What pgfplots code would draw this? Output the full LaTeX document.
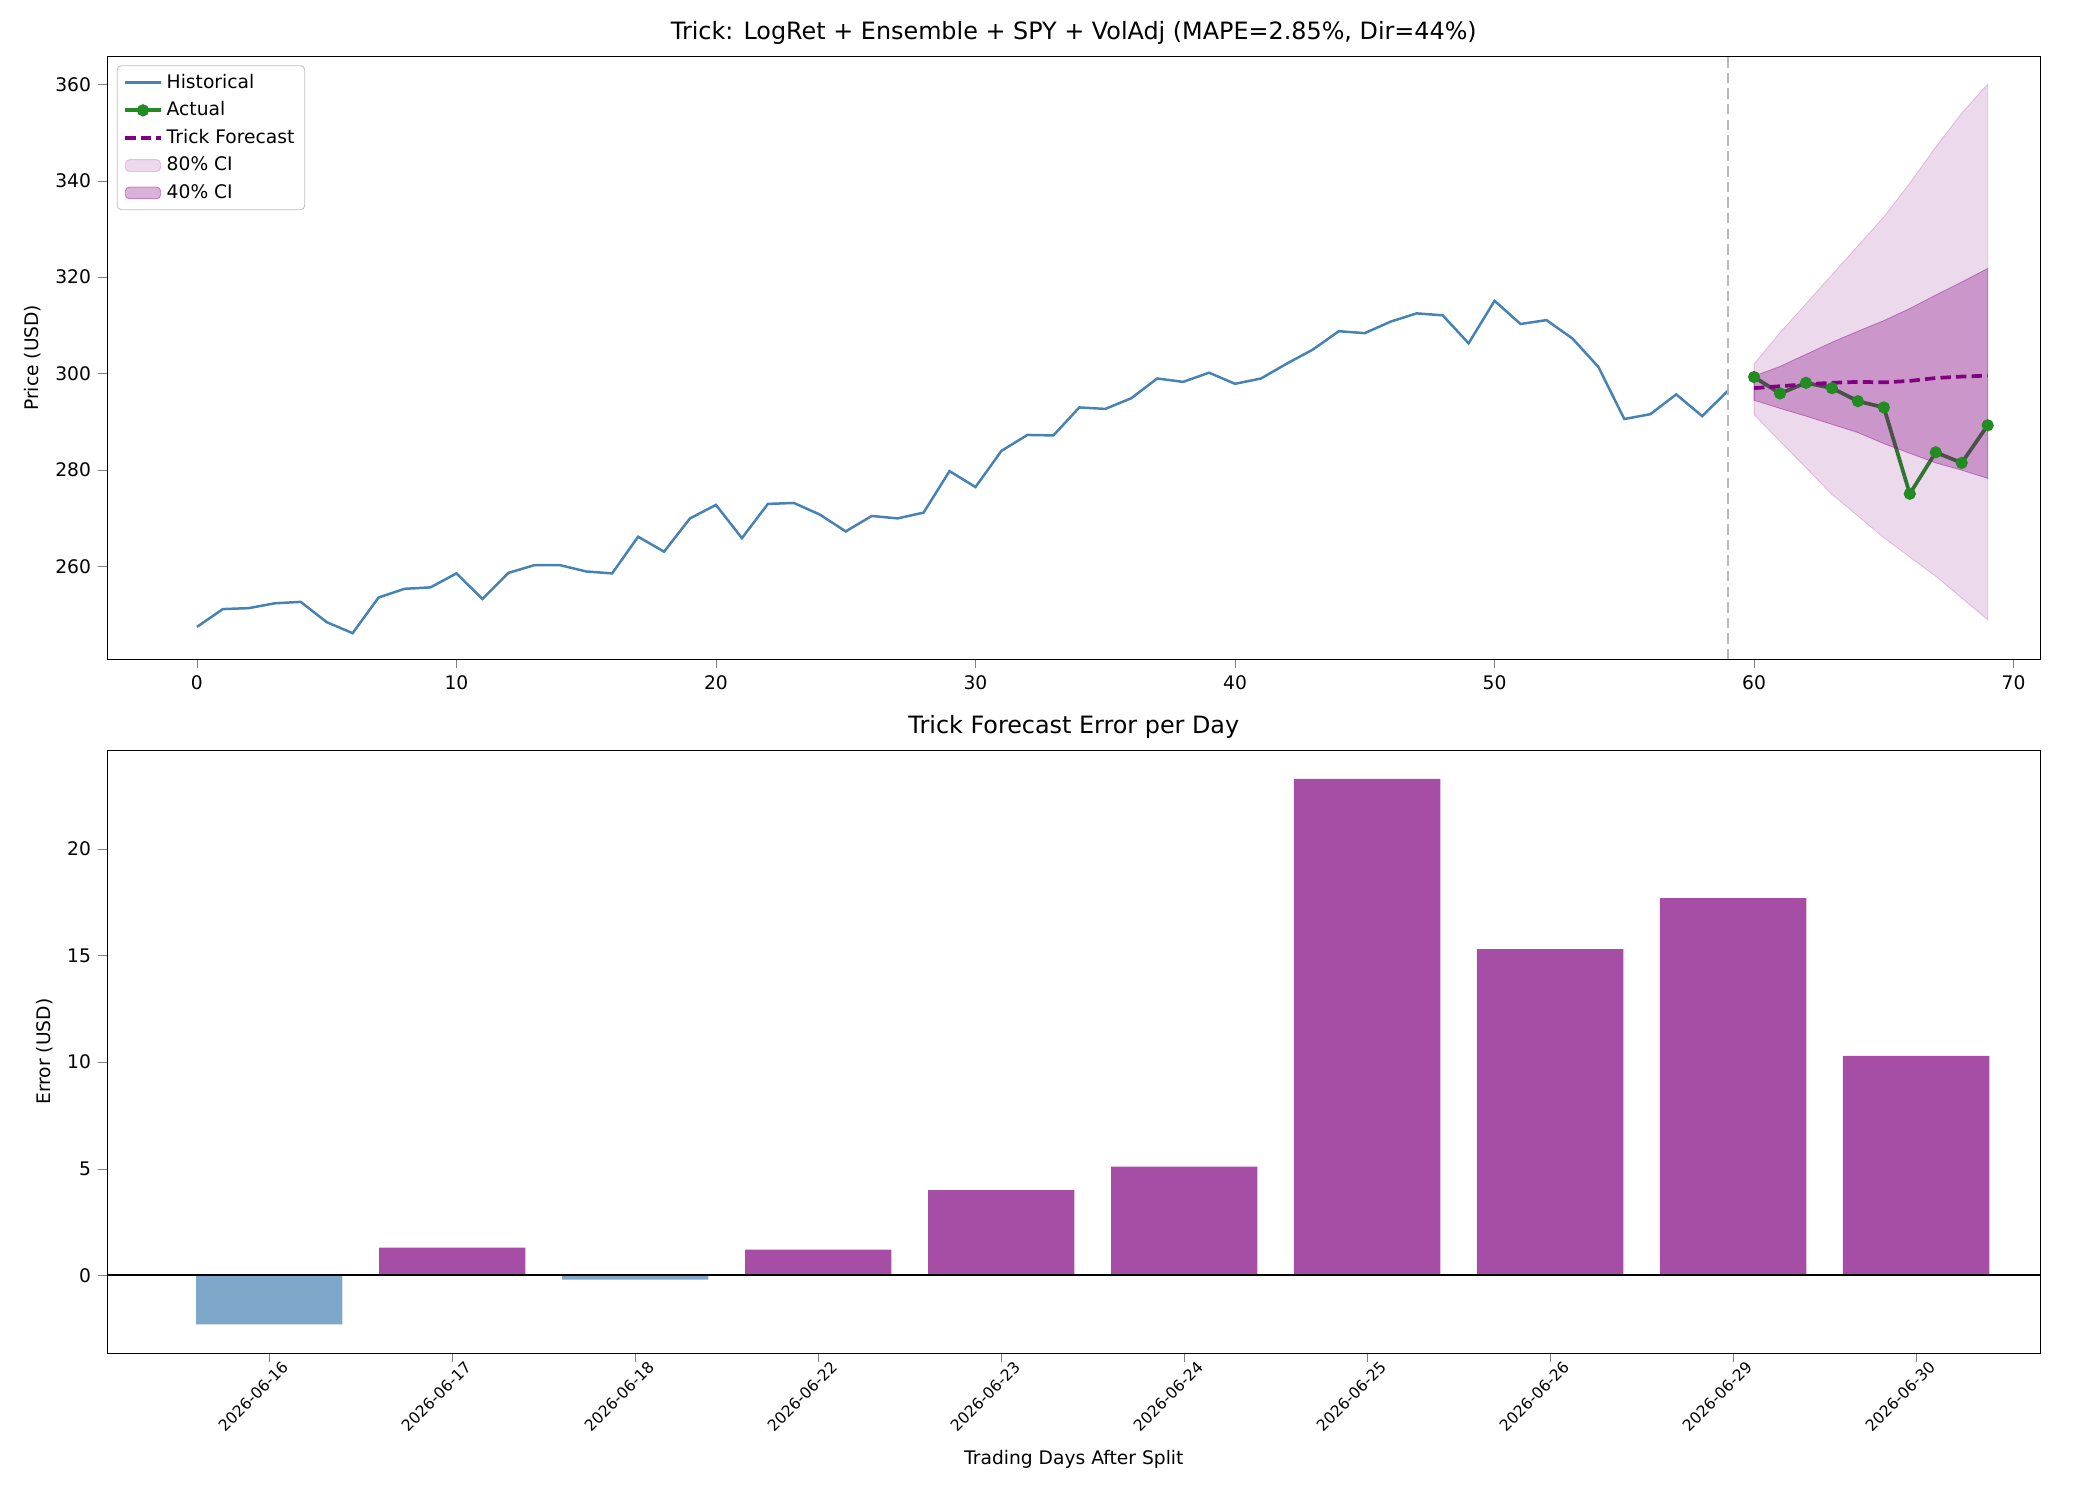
\documentclass[border=0pt]{standalone}
\usepackage{pgfplots}
\pgfplotsset{compat=1.18}
\usepackage{fontspec}
\setmainfont{DejaVu Sans}
\definecolor{steel}{HTML}{4682B4}
\definecolor{fgreen}{HTML}{228B22}
\definecolor{purp}{HTML}{800080}
\definecolor{barp}{HTML}{A64DA6}
\definecolor{barb}{HTML}{7EA8CA}
\begin{document}
\begin{tikzpicture}
\useasboundingbox (0,0) rectangle (14in,-10in);
\pgfplotsset{every axis/.append style={scale only axis, width=12.89in, height=4.02in,
 /pgf/number format/assume math mode=true, tick label style={font=\fontsize{9}{11}\selectfont},
 label style={font=\fontsize{9}{11}\selectfont}, title style={font=\fontsize{11.5}{13}\selectfont, yshift=-4pt},
 tick align=outside, tick pos=left}}
\begin{axis}[at={(0.714in,-0.375in)}, anchor=north west,
 xmin=-3.46, xmax=71.04, ymin=240.8, ymax=365.8,
 ytick={260,280,...,360}, xtick={0,10,...,70},
 title={Trick: LogRet + Ensemble + SPY + VolAdj (MAPE=2.85\%, Dir=44\%)},
 ylabel={Price (USD)},
 legend style={at={(0.005,0.985)}, anchor=north west, font=\fontsize{9}{11}\selectfont, draw=black!25, rounded corners=2pt, row sep=1pt},
 legend cell align=left]
\addplot[steel, line width=1.2pt] coordinates {
(0,247.5)(1,251.2)(2,251.4)(3,252.4)(4,252.7)(5,248.5)(6,246.2)(7,253.6)(8,255.4)(9,255.7)
(10,258.6)(11,253.3)(12,258.7)(13,260.3)(14,260.3)(15,259)(16,258.6)(17,266.2)(18,263.1)(19,270)
(20,272.8)(21,265.9)(22,273)(23,273.2)(24,270.8)(25,267.3)(26,270.5)(27,270)(28,271.2)(29,279.8)
(30,276.5)(31,284)(32,287.3)(33,287.2)(34,293)(35,292.7)(36,294.9)(37,299)(38,298.3)(39,300.2)
(40,297.9)(41,299)(42,302.1)(43,305)(44,308.8)(45,308.4)(46,310.8)(47,312.5)(48,312.1)(49,306.3)
(50,315.1)(51,310.3)(52,311.1)(53,307.3)(54,301.4)(55,290.6)(56,291.6)(57,295.7)(58,291.2)(59,296.5)};
\addlegendentry{Historical}
\addplot[fgreen, line width=1.8pt, mark=*, mark size=2pt] coordinates {
(60,299.3)(61,295.9)(62,298.1)(63,297)(64,294.3)(65,293)(66,275.1)(67,283.7)(68,281.5)(69,289.3)};
\addlegendentry{Actual}
\addplot[purp, line width=1.8pt, dash pattern=on 5pt off 2.5pt] coordinates {
(60,297)(61,297.4)(62,297.8)(63,298.1)(64,298.3)(65,298.2)(66,298.5)(67,299.1)(68,299.4)(69,299.6)};
\addlegendentry{Trick Forecast}
\addplot[draw=purp, draw opacity=0.2, fill=purp, fill opacity=0.15, area legend] coordinates {
(60,302)(61,308.5)(62,314.5)(63,320.5)(64,326.5)(65,332.5)(66,339.5)(67,347)(68,354)(69,360)
(69,249)(68,253.5)(67,258)(66,262)(65,266)(64,270.5)(63,275)(62,280.5)(61,286)(60,291.5)} --cycle;
\addlegendentry{80\% CI}
\addplot[draw=purp, draw opacity=0.4, fill=purp, fill opacity=0.3, area legend] coordinates {
(60,299.5)(61,301.5)(62,304)(63,306.5)(64,308.8)(65,311)(66,313.5)(67,316.3)(68,319)(69,321.8)
(69,278.3)(68,280)(67,281.5)(66,283.5)(65,285.5)(64,287.8)(63,289.5)(62,291.2)(61,292.8)(60,294.5)} --cycle;
\addlegendentry{40\% CI}
\draw[gray!55, line width=1.2pt, dash pattern=on 5pt off 2.5pt] (axis cs:59,240.8) -- (axis cs:59,365.8);
\end{axis}
\begin{axis}[at={(0.714in,-5.0in)}, anchor=north west,
 xmin=-0.886, xmax=9.68, ymin=-3.65, ymax=24.65,
 ytick={0,5,...,20}, xtick={0,...,9},
 xticklabels={2026-06-16,2026-06-17,2026-06-18,2026-06-22,2026-06-23,2026-06-24,2026-06-25,2026-06-26,2026-06-29,2026-06-30},
 xticklabel style={rotate=45, anchor=north east, xshift=8pt, font=\fontsize{7.5}{9}\selectfont},
 title={Trick Forecast Error per Day},
 ylabel={Error (USD)}, xlabel={Trading Days After Split},
 ybar, bar width=0.8, bar shift=0pt]
\addplot[fill=barb, draw=none] coordinates {(0,-2.3)(2,-0.2)};
\addplot[fill=barp, draw=none] coordinates {(1,1.3)(3,1.2)(4,4.0)(5,5.1)(6,23.3)(7,15.3)(8,17.7)(9,10.3)};
\draw[black, line width=0.8pt] (axis cs:-0.886,0) -- (axis cs:9.68,0);
\end{axis}
\end{tikzpicture}
\end{document}
